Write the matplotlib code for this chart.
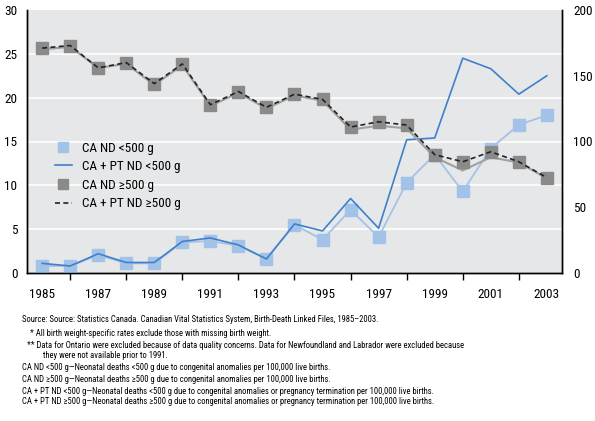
import numpy as np
import matplotlib.pyplot as plt
from matplotlib.lines import Line2D

plt.rcParams['font.family'] = ['Roboto Condensed', 'DejaVu Sans']

# data
years = np.arange(1985, 2004)
# left axis (per 100,000), <500 g
nd_lt500 = [0.8, 0.8, 2.05, 1.1, 1.1, 3.5, 3.65, 3.1, 1.6, 5.5,
            3.8, 7.2, 4.1, 10.3, 13.5, 9.3, 14.2, 16.9, 18.0]
ptnd_lt500 = [1.1, 0.8, 2.2, 1.2, 1.2, 3.6, 4.0, 3.2, 1.6, 5.6,
              4.8, 8.5, 5.1, 15.2, 15.4, 24.5, 23.3, 20.4, 22.5]
# right axis (per 100,000), >=500 g
nd_ge500 = [170, 172, 156, 159, 143, 158, 127, 137, 125, 135,
            131, 109, 112, 110, 88, 78, 88, 84, 72]
ptnd_ge500 = [171, 173, 156, 160, 144, 159, 128, 138, 126, 136,
              132, 111, 115, 112.5, 90, 84.6, 92.2, 84.6, 72.5]

bg = '#e6e7e8'
light_blue = '#a3c2e8'
blue = '#3f80cc'
gray_sq = '#8a8a8a'
gray_line = '#a0a0a0'

fig = plt.figure(figsize=(5.95, 4.21), dpi=100)
ax = fig.add_axes([27 / 595, 1 - 273 / 421, 535 / 595, 263 / 421])
ax2 = ax.twinx()

ax.set_facecolor(bg)
ax.set_zorder(ax2.get_zorder() - 1)
ax2.patch.set_visible(False)

ax.set_xlim(1984.46, 2003.54)
ax.set_ylim(0, 30)
ax2.set_ylim(0, 200)

for v in range(5, 30, 5):
    ax.axhline(v, color='white', lw=1.2, zorder=0)

# <500 g on left axis
ax.plot(years, nd_lt500, color=light_blue, lw=1.3, marker='s',
        ms=8, mec=light_blue, mfc=light_blue, zorder=3)
ax.plot(years, ptnd_lt500, color=blue, lw=1.2, zorder=4)

# >=500 g on right axis
ax2.plot(years, nd_ge500, color=gray_line, lw=1.5, zorder=2)
ax2.plot(years, ptnd_ge500, color='none', marker='s', ms=8,
         mec=gray_sq, mfc=gray_sq, zorder=3)
ax2.plot(years, ptnd_ge500, color='#222222', lw=1.2, ls=(0, (3, 2)), zorder=4)

ax.set_xticks(years[::2])
ax.set_xticks(years[1::2], minor=True)
ax.tick_params(axis='x', which='major', length=0, pad=11, labelsize=9.5)
ax.tick_params(axis='x', which='minor', length=5, width=1, direction='out')
ax.set_yticks(range(0, 31, 5))
ax.tick_params(axis='y', length=0, pad=7, labelsize=9.5)
ax2.set_yticks(range(0, 201, 50))
ax2.tick_params(axis='y', length=0, pad=8, labelsize=9.5)

for a in (ax, ax2):
    a.spines['top'].set_visible(False)
    for s in ('left', 'right', 'bottom'):
        a.spines[s].set_color('black')
        a.spines[s].set_linewidth(1)

handles = [
    Line2D([], [], ls='none', marker='s', ms=7, mfc=light_blue, mec=light_blue),
    Line2D([], [], color=blue, lw=1.2),
    Line2D([], [], ls='none', marker='s', ms=7, mfc=gray_sq, mec=gray_sq),
    Line2D([], [], color='#222222', lw=1.2, ls=(0, (3, 2))),
]
labels = ['CA ND <500 g', 'CA + PT ND <500 g', 'CA ND ≥500 g', 'CA + PT ND ≥500 g']
ax.legend(handles, labels, loc='upper left', bbox_to_anchor=(0.042, 0.52),
          borderaxespad=0, frameon=False, fontsize=9.5, handlelength=1.3,
          labelspacing=0.42, handletextpad=0.75)

notes = [
    (22, 'Source: Source: Statistics Canada. Canadian Vital Statistics System, Birth-Death Linked Files, 1985\u20132003.'),
    (30, '* All birth weight-specific rates exclude those with missing birth weight.'),
    (27, '** Data for Ontario were excluded because of data quality concerns. Data for Newfoundland and Labrador were excluded because'),
    (43, 'they were not available prior to 1991.'),
    (22, 'CA ND <500 g\u2014Neonatal deaths <500 g due to congenital anomalies per 100,000 live births.'),
    (22, 'CA ND \u2265500 g\u2014Neonatal deaths \u2265500 g due to congenital anomalies per 100,000 live births.'),
    (22, 'CA + PT ND <500 g\u2014Neonatal deaths <500 g due to congenital anomalies or pregnancy termination per 100,000 live births.'),
    (22, 'CA + PT ND \u2265500 g\u2014Neonatal deaths \u2265500 g due to congenital anomalies or pregnancy termination per 100,000 live births.'),
]
ys = [320, 333, 345, 356, 368, 379, 391, 402]
for (x, t), y in zip(notes, ys):
    fig.text(x / 595, 1 - y / 421, t, fontsize=6.2, va='center', ha='left')

fig.savefig('out.png', dpi=100)
